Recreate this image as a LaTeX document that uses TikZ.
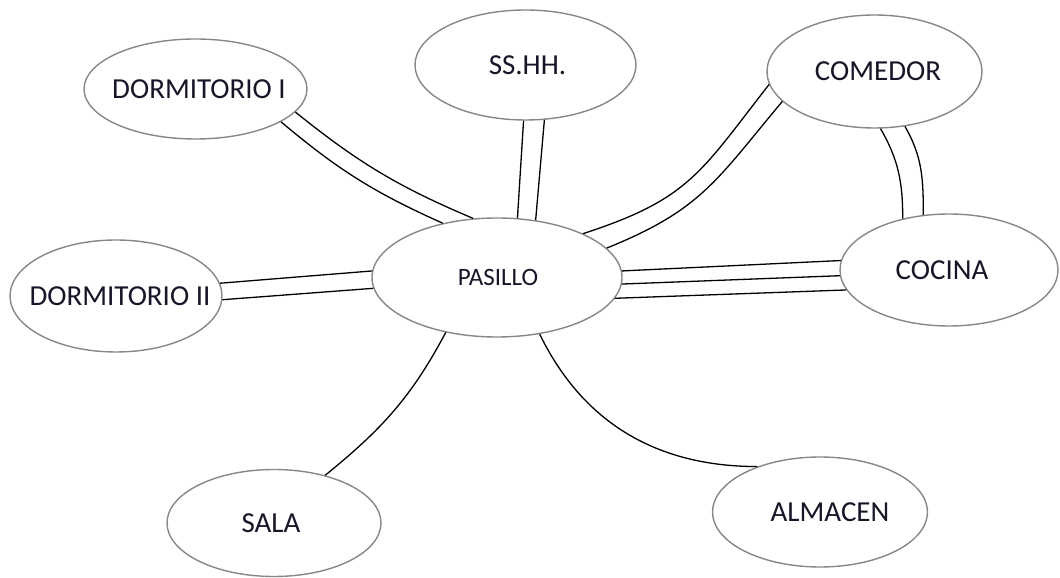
\documentclass[tikz,border=0pt]{standalone}
\usepackage{fontspec}
\setmainfont{Carlito}
\usetikzlibrary{shapes.geometric}
\definecolor{edgegray}{RGB}{135,135,135}
\definecolor{txt}{RGB}{22,22,40}
\newcommand{\roomtext}[2][0pt]{\makebox[0pt]{\hspace*{#1}#2}}
\begin{document}
\begin{tikzpicture}[x=1pt,y=1pt,
  room/.style={ellipse, draw=edgegray, line width=1.4pt, fill=white, inner sep=0pt,
    text=txt, font=\fontsize{29}{32}\selectfont},
  smallroom/.style={room, font=\fontsize{25}{28}\selectfont},
  link/.style={line width=1.3pt, draw=black}]
\useasboundingbox (0,0) rectangle (1060,578);
% rooms
\node[room, minimum width=223pt, minimum height=100pt] (d1) at (195.5,489) {\roomtext[7pt]{DORMITORIO I}};
\node[room, minimum width=221pt, minimum height=110pt] (ss) at (525.5,513) {\roomtext[4pt]{SS.HH.}};
\node[room, minimum width=215pt, minimum height=113pt] (com) at (874.5,506.5) {\roomtext[7pt]{COMEDOR}};
\node[room, minimum width=212pt, minimum height=112pt] (d2) at (116,282) {\roomtext[8pt]{DORMITORIO II}};
\node[smallroom, minimum width=250pt, minimum height=119pt] (pas) at (497,300.5) {\roomtext[2pt]{PASILLO}};
\node[room, minimum width=218pt, minimum height=112pt] (coc) at (949,308) {\roomtext{COCINA\hspace*{14pt}}};
\node[room, minimum width=214pt, minimum height=107pt] (sala) at (274,55) {\roomtext{SALA\hspace*{6pt}}};
\node[room, minimum width=215pt, minimum height=110pt] (alm) at (820,66) {\roomtext[20pt]{ALMACEN}};
% connectors
\draw[link] (d1.-21.2) to[bend right=8] (pas.135.3);
\draw[link] (d1.-13.2) to[bend right=8] (pas.112.5);
\draw[link] (ss.-92.6) -- (pas.71.7);
\draw[link] (ss.-71.7) -- (pas.56.3);
\draw[link] (pas.27.6) to[out=18,in=232,looseness=1.2] (com.187.7);
\draw[link] (pas.15) to[out=22,in=230,looseness=1.15] (com.198.8);
\draw[link] (com.-84.4) to[out=-60,in=90] (coc.132.6);
\draw[link] (com.-61.2) to[out=-60,in=90] (coc.115.3);
\draw[link] (pas.3.5) -- (coc.175.7);
\draw[link] (pas.-3.0) -- (coc.183.8);
\draw[link] (pas.-10) -- (coc.191.4);
\draw[link] (d2.7) -- (pas.177.5);
\draw[link] (d2.-2.7) -- (pas.185.3);
\draw[link] (pas.227.9) to[out=242,in=39] (sala.43.2);
\draw[link] (pas.-53.2) to[out=-64,in=180] (alm.144.5);
\end{tikzpicture}
\end{document}
